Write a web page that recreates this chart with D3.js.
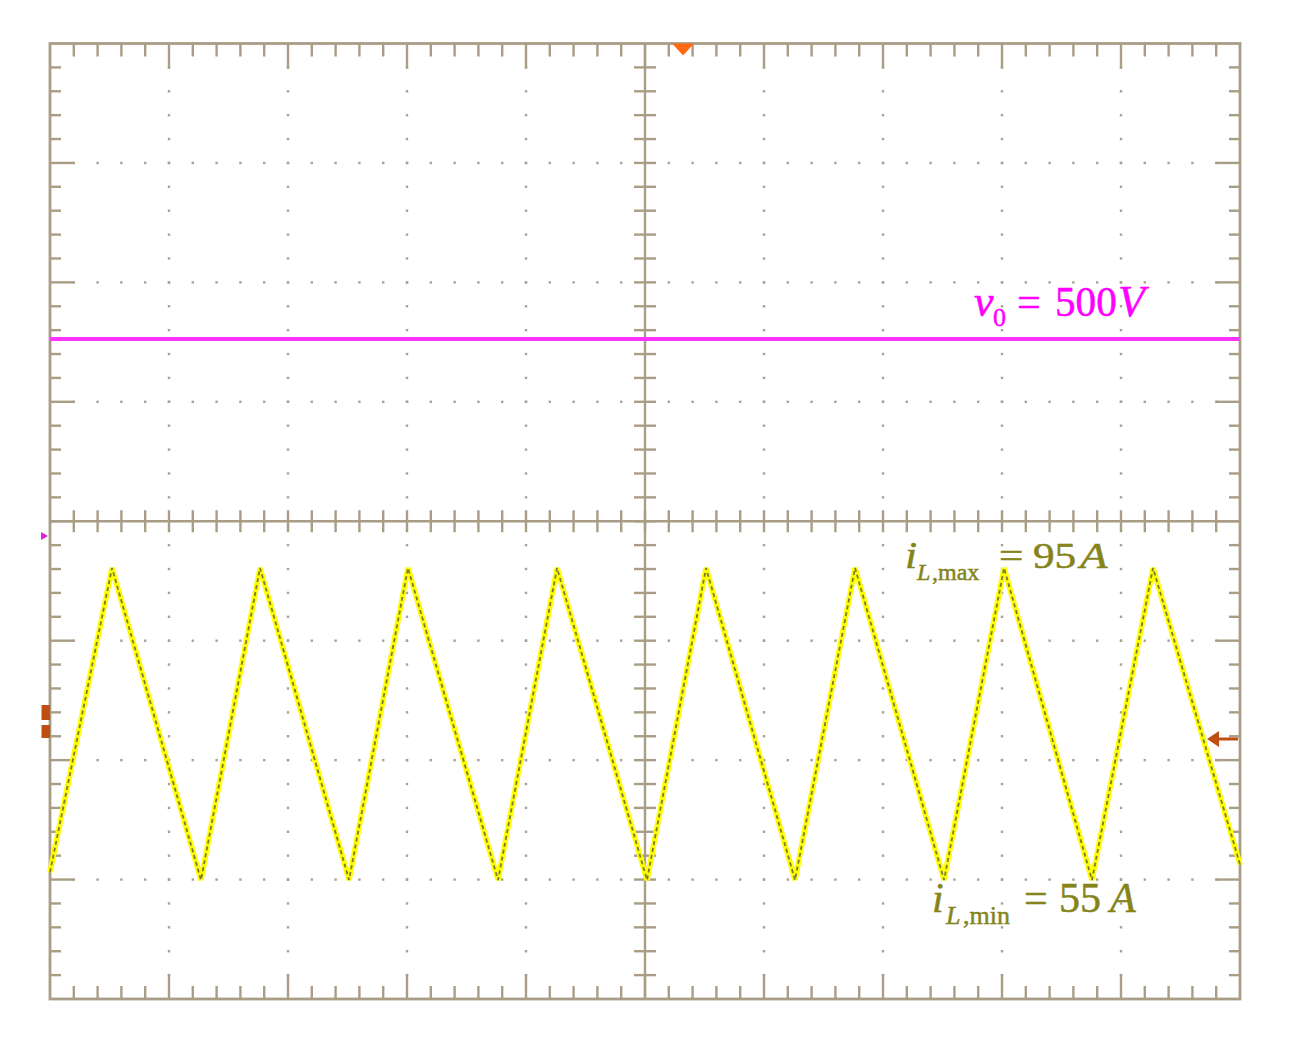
<!DOCTYPE html>
<html><head><meta charset="utf-8">
<script src="https://cdn.jsdelivr.net/npm/d3@7"></script>
<style>html,body{margin:0;padding:0;background:#fff;}svg{display:block;}</style>
</head><body>
<svg id="c" width="1294" height="1056"></svg>
<script>
// ---- data ----
const hDivs = 10, vDivs = 8, subDivs = 5;
// inductor current trace: time (divisions) and current (A)
const timeDiv  = [0.00, 0.521, 1.269, 1.765, 2.513, 3.008, 3.765, 4.261, 5.017, 5.513, 6.261, 6.765, 7.513, 8.017, 8.756, 9.269, 10.00];
const currentA = [56.0, 95,    55,    95,    55,    95,    55,    95,    55,    95,    55,    95,    55,    95,    55,    95,    57.0];
// output voltage trace
const voltTime = [0, 10];
const voltV    = [500, 500];
const triggerDiv = 5.32;
const labels = {v: "500", iMax: "95", iMin: "55"};

// ---- layout ----
const L = 50, R = 1240, T = 43.5, B = 999;
const svg = d3.select("#c");
const x = d3.scaleLinear().domain([0, hDivs]).range([L, R]);
const yDiv = d3.scaleLinear().domain([0, vDivs]).range([B, T]);
const yI = d3.scaleLinear().domain([55, 95]).range([880, 568]);
const yV = d3.scaleLinear().domain([0, 500]).range([536, 339]);
const gridCol = "#a99d85";

// dots on major grid lines
const dots = svg.append("g").attr("fill", "#a8a290");
for (let i = 1; i < hDivs; i++) {
  if (i === hDivs/2) continue;
  for (let k = 1; k < vDivs*subDivs; k++) {
    dots.append("rect").attr("x", x(i)-1.2).attr("y", yDiv(k/subDivs)-1.2).attr("width", 2.4).attr("height", 2.4);
  }
}
for (let j = 1; j < vDivs; j++) {
  if (j === vDivs/2) continue;
  for (let k = 1; k < hDivs*subDivs; k++) {
    dots.append("rect").attr("x", x(k/subDivs)-1.2).attr("y", yDiv(j)-1.2).attr("width", 2.4).attr("height", 2.4);
  }
}

// frame & ticks
const g = svg.append("g").attr("stroke", gridCol).attr("stroke-width", 2.4).attr("fill", "none");
g.append("rect").attr("x", L).attr("y", T).attr("width", R-L).attr("height", B-T).attr("stroke-width", 2.8);
const cx = x(hDivs/2), cy = yDiv(vDivs/2);
g.append("line").attr("x1", cx).attr("x2", cx).attr("y1", T).attr("y2", B);
g.append("line").attr("x1", L).attr("x2", R).attr("y1", cy).attr("y2", cy);
for (let k = 1; k < hDivs*subDivs; k++) {
  const major = k % subDivs === 0;
  const len = major ? 25 : 13;
  const xx = x(k/subDivs);
  g.append("line").attr("x1", xx).attr("x2", xx).attr("y1", T).attr("y2", T+len);
  g.append("line").attr("x1", xx).attr("x2", xx).attr("y1", B).attr("y2", B-len);
  g.append("line").attr("x1", xx).attr("x2", xx).attr("y1", cy-11).attr("y2", cy+11);
}
for (let k = 1; k < vDivs*subDivs; k++) {
  const major = k % subDivs === 0;
  const len = major ? 24 : 11;
  const yy = yDiv(k/subDivs);
  g.append("line").attr("x1", L).attr("x2", L+len).attr("y1", yy).attr("y2", yy);
  g.append("line").attr("x1", R).attr("x2", R-len).attr("y1", yy).attr("y2", yy);
  g.append("line").attr("x1", cx-11).attr("x2", cx+11).attr("y1", yy).attr("y2", yy);
}

// voltage trace
svg.append("path")
  .datum(voltTime.map((t,i)=>[t, voltV[i]]))
  .attr("d", d3.line().x(d=>x(d[0])).y(d=>yV(d[1])))
  .attr("stroke", "#ff33ff").attr("stroke-width", 3.8).attr("fill", "none");

// current trace
const ipts = timeDiv.map((t,i)=>[t, currentA[i]]);
const iline = d3.line().x(d=>x(d[0])).y(d=>yI(d[1]));
svg.append("path").datum(ipts).attr("d", iline)
  .attr("stroke", "#ffff00").attr("stroke-width", 5.5).attr("fill", "none").attr("stroke-linejoin", "miter");
svg.append("path").datum(ipts).attr("d", iline)
  .attr("stroke", "#7c7c34").attr("stroke-width", 1.8).attr("fill", "none").attr("stroke-dasharray", "4,3");

// markers
const tx = x(triggerDiv);
svg.append("path").attr("d", `M${tx-11},${T} L${tx+11},${T} L${tx},${T+12} Z`).attr("fill", "#ff6a13");
const gv = yV(0);
svg.append("path").attr("d", `M${L-9},${gv-4} L${L-2},${gv} L${L-9},${gv+4} Z`).attr("fill", "#e020e0");
svg.append("rect").attr("x", L-8.5).attr("y", 705).attr("width", 8.5).attr("height", 15).attr("fill", "#bf4f10");
svg.append("rect").attr("x", L-8.5).attr("y", 725).attr("width", 8.5).attr("height", 13).attr("fill", "#bf4f10");
svg.append("line").attr("x1", R-2).attr("x2", R-24).attr("y1", 739).attr("y2", 739).attr("stroke", "#bf4f10").attr("stroke-width", 3);
svg.append("path").attr("d", `M${R-33},739 L${R-21},731 L${R-21},747 Z`).attr("fill", "#bf4f10");

// labels
const serif = "'Liberation Serif','Times New Roman',serif";
function txt(xx, yy, s, size, col, italic, sx) {
  const t = svg.append("text").attr("x", 0).attr("y", 0)
    .attr("transform", `translate(${xx},${yy}) scale(${sx||1},1)`)
    .attr("font-family", serif).attr("font-size", size).attr("fill", col)
    .attr("stroke", col).attr("stroke-width", 0.5).text(s);
  if (italic) t.attr("font-style", "italic");
  return t;
}
const mag = "#ff00ff";
txt(974, 316, "v", 44, mag, true);
txt(993, 326, "0", 26, mag, false);
txt(1017, 316, "=", 42, mag, false);
txt(1055, 316, labels.v, 42, mag, false, 0.98);
txt(1118, 316, "V", 44, mag, true);

const olv = "#84841a";
txt(905, 568, "i", 38, olv, true, 1.15);
txt(917, 580, "L", 24, olv, true);
txt(932, 580, ",max", 24, olv, false);
txt(999, 568, "=", 36, olv, false, 1.2);
txt(1033, 568, labels.iMax, 36, olv, false, 1.2);
txt(1080, 568, "A", 36, olv, true, 1.25);

txt(932, 912, "i", 42, olv, true);
txt(946, 924, "L", 26, olv, true);
txt(963, 924, ",min", 26, olv, false);
txt(1024, 912, "=", 42, olv, false);
txt(1059, 912, labels.iMin, 42, olv, false);
txt(1110, 912, "A", 42, olv, true);
</script>
</body></html>
